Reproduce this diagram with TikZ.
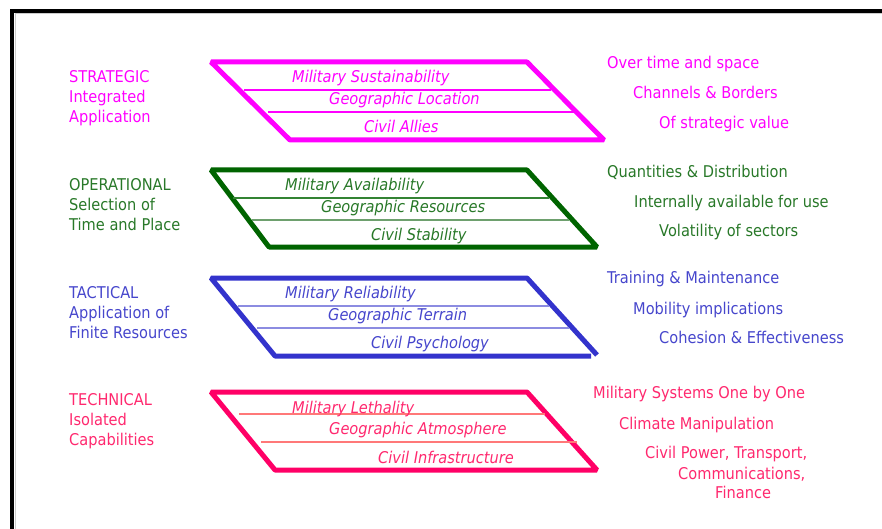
\documentclass[tikz,border=0pt]{standalone}
\usepackage{fontspec}
\setmainfont{DejaVu Sans}[FakeStretch=0.9]
\usepackage{xcolor}
\definecolor{magen}{RGB}{255,0,255}
\definecolor{vert}{RGB}{0,100,0}
\definecolor{verttxt}{RGB}{40,120,40}
\definecolor{vertpale}{RGB}{110,160,110}
\definecolor{bleu}{RGB}{51,51,204}
\definecolor{bleutxt}{RGB}{70,70,204}
\definecolor{bleupale}{RGB}{140,140,225}
\definecolor{rouge}{RGB}{255,0,102}
\definecolor{rougetxt}{RGB}{255,40,110}
\definecolor{saumon}{RGB}{255,120,120}

\begin{document}
\begin{tikzpicture}[x=1pt,y=-1pt,
    every node/.style={font=\fontsize{16.2}{19.4}\selectfont, inner sep=0pt, anchor=base west},
    lib/.style={font=\fontsize{16.2}{19.4}\selectfont\itshape},
    couche/.style={line width=5pt, line join=bevel},
    trait/.style={line width=1.3pt}]
    \useasboundingbox (0,0) rectangle (882,529);
    % cadre
    \draw[gray!40, line width=1pt] (15,529) -- (15,14) -- (882,14);
    \draw[black, line width=3.5pt] (12,529) -- (12,11) -- (882,11);

    % strategique
    \draw[couche, magen] (211,62) -- (527,62) -- (604,140) -- (290,140) -- cycle;
    \draw[trait, magen] (244,90) -- (551,90);
    \draw[trait, magen] (268,112) -- (574,112);
    \node[magen] (strat) at (69,82.5) {STRATEGIC};
    \node[magen] (strat2) at (69,103) {Integrated};
    \node[magen] (strat3) at (69,122.5) {Application};
    \node[lib, magen] (stratm) at (292,82.5) {Military Sustainability};
    \node[lib, magen] (stratg) at (329,104.5) {Geographic Location};
    \node[lib, magen] (stratc) at (364,132.5) {Civil Allies};
    \node[magen] (stratr1) at (607,68.5) {Over time and space};
    \node[magen] (stratr2) at (633,98.5) {Channels \& Borders};
    \node[magen] (stratr3) at (659,128.5) {Of strategic value};

    % operationnel
    \draw[couche, vert] (211,170) -- (527,170) -- (597,247) -- (269,247) -- cycle;
    \draw[trait, vert!80] (233,198) -- (549,198);
    \draw[trait, vertpale] (252,220) -- (569,220);
    \node[verttxt] (oper) at (69,190.5) {OPERATIONAL};
    \node[verttxt] (oper2) at (69,210.5) {Selection of};
    \node[verttxt] (oper3) at (69,230.5) {Time and Place};
    \node[lib, verttxt] (operm) at (285,190.5) {Military Availability};
    \node[lib, verttxt] (operg) at (321,212.5) {Geographic Resources};
    \node[lib, verttxt] (operc) at (371,240.5) {Civil Stability};
    \node[verttxt] (operr1) at (607,177.5) {Quantities \& Distribution};
    \node[verttxt] (operr2) at (634,207.5) {Internally available for use};
    \node[verttxt] (operr3) at (659,236.5) {Volatility of sectors};

    % tactique
    \draw[couche, bleu] (591,356) -- (275,356) -- (211,278) -- (527,278) -- (597,355);
    \draw[trait, bleupale] (238,306) -- (549,306);
    \draw[trait, bleupale] (257,328) -- (569,328);
    \node[bleutxt] (tact) at (69,298.5) {TACTICAL};
    \node[bleutxt] (tact2) at (69,318.5) {Application of};
    \node[bleutxt] (tact3) at (69,338.5) {Finite Resources};
    \node[lib, bleutxt] (tactm) at (285,298.5) {Military Reliability};
    \node[lib, bleutxt] (tactg) at (328,320.5) {Geographic Terrain};
    \node[lib, bleutxt] (tactc) at (371,348.5) {Civil Psychology};
    \node[bleutxt] (tactr1) at (607,283.5) {Training \& Maintenance};
    \node[bleutxt] (tactr2) at (633,314.5) {Mobility implications};
    \node[bleutxt] (tactr3) at (659,343.5) {Cohesion \& Effectiveness};

    % technique
    \draw[couche, rouge] (211,392) -- (527,392) -- (597,470) -- (275,470) -- cycle;
    \draw[trait, saumon] (239,414) -- (545,414);
    \draw[trait, saumon] (261,442) -- (577,442);
    \node[rougetxt] (tech) at (69,405.5) {TECHNICAL};
    \node[rougetxt] (tech2) at (69,425.5) {Isolated};
    \node[rougetxt] (tech3) at (69,445.5) {Capabilities};
    \node[lib, rougetxt] (techm) at (292,413) {Military Lethality};
    \node[lib, rougetxt] (techg) at (329,434.5) {Geographic Atmosphere};
    \node[lib, rougetxt] (techc) at (378,463.5) {Civil Infrastructure};
    \node[rougetxt] (techr1) at (593,398.5) {Military Systems One by One};
    \node[rougetxt] (techr2) at (619,429.5) {Climate Manipulation};
    \node[rougetxt] (techr3) at (645,458.5) {Civil Power, Transport,};
    \node[rougetxt] (techr4) at (678,479.5) {Communications,};
    \node[rougetxt] (techr5) at (715,498.5) {Finance};
\end{tikzpicture}
\end{document}
